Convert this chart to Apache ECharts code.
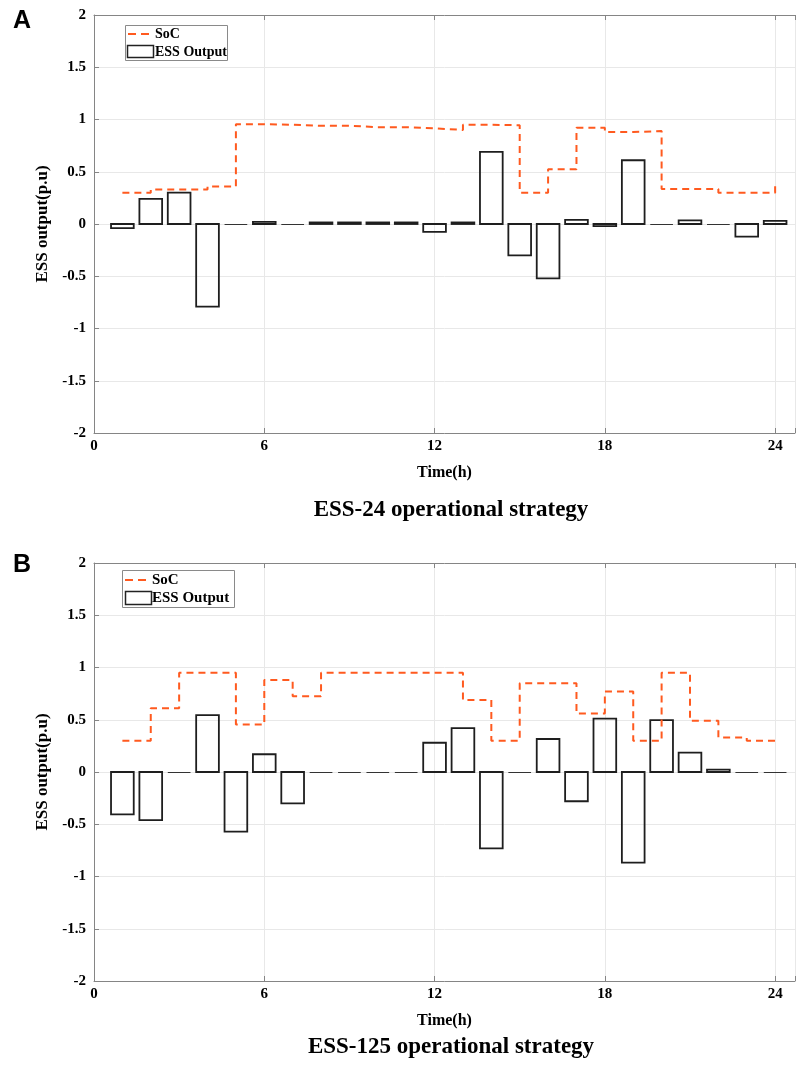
<!DOCTYPE html>
<html><head><meta charset="utf-8">
<script src="https://cdn.jsdelivr.net/npm/echarts@6/dist/echarts.min.js"></script>
<style>html,body{margin:0;padding:0;background:#fff}#c{width:798px;height:1070px}</style>
</head><body><div id="c"></div>
<script>
const hours = [1,2,3,4,5,6,7,8,9,10,11,12,13,14,15,16,17,18,19,20,21,22,23,24];
// Panel A: ESS-24
const essA = [-0.04,0.24,0.30,-0.79,0,0.02,0,0.015,0.015,0.015,0.015,-0.075,0.015,0.69,-0.30,-0.52,0.04,-0.02,0.61,0,0.035,0,-0.12,0.03];
const socA = [0.30,0.33,0.33,0.36,0.955,0.95,0.94,0.94,0.927,0.927,0.915,0.90,0.95,0.945,0.30,0.525,0.92,0.88,0.89,0.335,0.335,0.30,0.30,0.39];
// Panel B: ESS-125
const essB = [-0.405,-0.46,0,0.545,-0.57,0.17,-0.30,0,0,0,0,0.28,0.42,-0.73,0,0.316,-0.28,0.51,-0.867,0.497,0.185,0.022,0,0];
const socB = [0.30,0.61,0.95,0.95,0.455,0.88,0.725,0.95,0.95,0.95,0.95,0.95,0.69,0.30,0.85,0.85,0.56,0.77,0.30,0.95,0.49,0.33,0.30,0.30];
const xTicks = [0,6,12,18,24];
const titles = ['ESS-24 operational strategy','ESS-125 operational strategy'];
const panelLetters = ['A','B'];

const SERIF = '"Liberation Serif","Times New Roman",serif';
const ORANGE = '#FF5A1F';
const AXIS = '#858585';
const GRIDC = '#e8e8e8';
const BAR_W = 0.8;

const grids = [
  {left: 94, top: 15, width: 704, height: 418},
  {left: 94, top: 563, width: 704, height: 418}
];

function xAxisMain(gi){
  return {
    type:'value', gridIndex: gi, min:0, max:24.7, interval:6, position:'bottom',
    axisLine:{onZero:false, lineStyle:{color:AXIS, width:1}},
    axisTick:{inside:true, length:5, lineStyle:{color:AXIS}},
    axisLabel:{color:'#000', fontFamily:SERIF, fontWeight:'bold', fontSize:15, margin:6,
      formatter: v => xTicks.includes(v) ? String(v) : ''},
    splitLine:{show:true, lineStyle:{color:GRIDC, width:1}},
    name:'Time(h)', nameLocation:'middle', nameGap:32,
    nameTextStyle:{color:'#000', fontFamily:SERIF, fontWeight:'bold', fontSize:16}
  };
}
function xAxisTop(gi){
  return {
    type:'value', gridIndex: gi, min:0, max:24.7, interval:6, position:'top',
    axisLine:{onZero:false, lineStyle:{color:AXIS, width:1}},
    axisTick:{inside:true, length:5, lineStyle:{color:AXIS}},
    axisLabel:{show:false}, splitLine:{show:false}
  };
}
function yAxis(gi){
  return {
    type:'value', gridIndex: gi, min:-2, max:2, interval:0.5,
    axisLine:{show:true, onZero:false, lineStyle:{color:AXIS, width:1}},
    axisTick:{show:true, inside:true, length:5, lineStyle:{color:AXIS}},
    axisLabel:{color:'#000', fontFamily:SERIF, fontWeight:'bold', fontSize:15, margin:8},
    splitLine:{show:true, lineStyle:{color:GRIDC, width:1}},
    name:'ESS output(p.u)', nameLocation:'middle', nameGap:38, nameRotate:90,
    nameTextStyle:{color:'#000', fontFamily:SERIF, fontWeight:'bold', fontSize:17}
  };
}

function barRender(params, api){
  const x = api.value(0), y = api.value(1);
  const p0 = api.coord([x - BAR_W/2, 0]);
  const p1 = api.coord([x + BAR_W/2, y]);
  if (y === 0) {
    return {type:'line', shape:{x1:p0[0], y1:Math.round(p0[1])+0.5, x2:p1[0], y2:Math.round(p0[1])+0.5},
      style:{stroke:'#333', lineWidth:1}};
  }
  const top = Math.min(p0[1], p1[1]);
  const h = Math.abs(p1[1]-p0[1]);
  return {type:'rect', shape:{x:p0[0], y:top, width:p1[0]-p0[0], height:h},
    style:{fill:'none', stroke:'#1e1e1e', lineWidth:1.8}};
}

function seriesFor(gi, ess, soc){
  return [
    {type:'custom', name:'ESS Output', xAxisIndex: gi*2, yAxisIndex: gi, renderItem: barRender,
      encode:{x:0, y:1}, data: hours.map((h,i)=>[h, ess[i]]), z:3, clip:false},
    {type:'line', name:'SoC', xAxisIndex: gi*2, yAxisIndex: gi, step:'end', showSymbol:false, symbol:'none',
      data: hours.map((h,i)=>[h, soc[i]]),
      lineStyle:{color:ORANGE, width:2, type:[7,5]}, z:4}
  ];
}

function legendGraphic(box, fs){
  return [
    {type:'rect', shape:{x:box.x+0.5, y:box.y+0.5, width:box.w, height:box.h},
      style:{fill:'#fff', stroke:'#8a8a8a', lineWidth:1}, z:10},
    {type:'line', shape:{x1:box.lx0, y1:box.l1y, x2:box.lx1, y2:box.l1y},
      style:{stroke:ORANGE, lineWidth:2, lineDash:[8,5]}, z:11},
    {type:'text', x:box.tx, y:box.l1y, style:{text:'SoC', font:'bold '+fs+'px '+SERIF, fill:'#000', textVerticalAlign:'middle', verticalAlign:'middle'}, z:11},
    {type:'rect', shape:{x:box.rx+0.5, y:box.ry+0.5, width:box.rw, height:box.rh},
      style:{fill:'#fff', stroke:'#222', lineWidth:1.5}, z:11},
    {type:'text', x:box.tx, y:box.l2y, style:{text:'ESS Output', font:'bold '+fs+'px '+SERIF, fill:'#000', textVerticalAlign:'middle', verticalAlign:'middle'}, z:11}
  ];
}

const chart = echarts.init(document.getElementById('c'), null, {renderer:'canvas'});
chart.setOption({
  animation:false,
  backgroundColor:'#fff',
  title: titles.map((t,i)=>({
    text:t, left:446, top: i===0 ? 494 : 1031, textAlign:'center',
    textStyle:{color:'#000', fontFamily:SERIF, fontWeight:'bold', fontSize:23}
  })),
  grid: grids,
  xAxis:[xAxisMain(0), xAxisTop(0), xAxisMain(1), xAxisTop(1)],
  yAxis:[yAxis(0), yAxis(1)],
  series:[...seriesFor(0, essA, socA), ...seriesFor(1, essB, socB)],
  graphic:[
    {type:'text', left:13, top:9, style:{text:panelLetters[0], font:'bold 25px "Liberation Sans",Arial,sans-serif', fill:'#000'}},
    {type:'text', left:13, top:553, style:{text:panelLetters[1], font:'bold 25px "Liberation Sans",Arial,sans-serif', fill:'#000'}},
    ...legendGraphic({x:125, y:25, w:102, h:35, l1y:34, l2y:52, lx0:128, lx1:150, tx:155, rx:127, ry:45, rw:26, rh:12}, 14),
    ...legendGraphic({x:122, y:570, w:112, h:37, l1y:580, l2y:598, lx0:125, lx1:148, tx:152, rx:125, ry:591, rw:26, rh:13}, 15)
  ]
});
</script>
</body></html>
